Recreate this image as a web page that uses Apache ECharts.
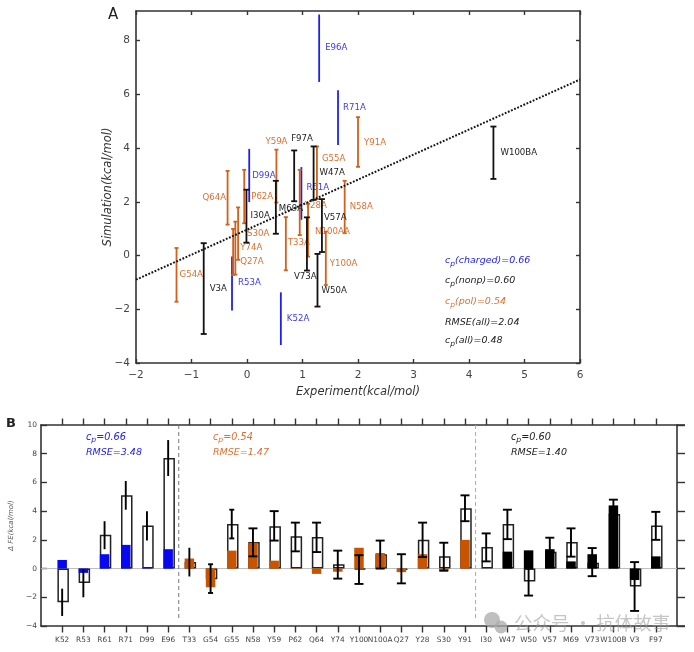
<!DOCTYPE html>
<html><head><meta charset="utf-8">
<style>html,body{margin:0;padding:0;background:#fff}#c{width:694px;height:652px}</style>
<script src="https://cdn.jsdelivr.net/npm/echarts@6/dist/echarts.min.js"></script>
</head><body><div id="c"></div>
<script>
// ---------- Panel A data ----------
const mutants = ['E96A','R71A','R61A','D99A','R53A','K52A',
  'Y91A','Y59A','G55A','N58A','Q64A','P62A','Y28A','S30A','Y74A','Q27A','G54A','T33A','N100AA','Y100A',
  'F97A','W47A','I30A','M69A','V57A','V73A','W50A','V3A','W100BA'];
const mutantGroup = ['c','c','c','c','c','c',
  'p','p','p','p','p','p','p','p','p','p','p','p','p','p',
  'n','n','n','n','n','n','n','n','n'];
const experiment = [1.30,1.64,0.98,0.04,-0.27,0.61,
  2.00,0.53,1.26,1.76,-0.35,-0.05,0.95,-0.16,-0.21,-0.25,-1.27,0.70,1.10,1.42,
  0.85,1.20,-0.01,0.52,1.35,1.08,1.27,-0.78,4.44];
const simLow = [6.46,4.11,1.33,1.99,-2.05,-3.33,
  3.30,1.97,2.10,0.83,1.15,1.20,0.76,-0.16,-0.71,-0.72,-1.72,-0.55,-0.04,-1.10,
  2.02,2.07,0.48,0.81,0.13,-0.56,-1.90,-2.92,2.85];
const simHigh = [8.97,6.15,3.29,3.97,-0.04,-1.37,
  5.15,3.94,4.06,2.78,3.15,3.19,3.19,1.79,1.26,0.99,0.28,1.43,1.92,0.89,
  3.91,4.06,2.45,2.78,2.10,1.42,0.06,0.46,4.80];
const fitLine = [[-2,-0.9],[6,6.55]];
// label pixel offset from the top of each error bar
const labelOffsets = [[6,33],[5,17],[5,21],[3,27],[6,26],[6,26],
  [6,26],[-11,-8],[5,12],[5,26],[-25,27],[7,27],[5,36],[9,26],[5,26],[7,33],[3,27],[2,26],[7,28],[4,32],
  [-3,-12],[6,26],[4,26],[3,28],[2,19],[-13,59],[4,37],[6,46],[7,26]];

// ---------- Panel B data ----------
const residues = ['K52','R53','R61','R71','D99','E96',
  'T33','G54','G55','N58','Y59','P62','Q64','Y74','Y100','N100A','Q27','Y28','S30','Y91',
  'I30','W47','W50','V57','M69','V73','W100B','V3','F97'];
const residueGroup = ['c','c','c','c','c','c','p','p','p','p','p','p','p','p','p','p','p','p','p','p','n','n','n','n','n','n','n','n','n'];
const totalFE = [-2.35,-1.0,2.35,5.1,3.0,7.7,
  0.45,-0.75,3.1,1.85,2.95,2.25,2.2,0.3,-0.05,1.0,-0.1,2.0,0.85,4.2,
  1.5,3.1,-0.9,1.18,1.85,0.4,3.8,-1.25,3.0];
const partFE = [0.6,-0.3,1.0,1.65,0.03,1.35,
  0.7,-1.3,1.25,1.8,0.55,0.03,-0.37,-0.22,1.45,1.08,-0.25,1.0,-0.15,2.0,
  0,1.18,1.27,1.35,0.5,1.0,4.4,-0.8,0.85];
const errLow = [-3.3,-2.0,1.35,4.1,1.95,6.45,
  -0.55,-1.7,2.1,0.85,1.95,1.2,1.15,-0.7,-1.07,0,-1.03,0.8,-0.15,3.3,
  0.5,2.05,-1.88,1.15,0.83,-0.53,3.8,-2.95,2.0];
const errHigh = [-1.4,-0.05,3.3,6.1,4.0,8.95,
  1.45,0.3,4.1,2.8,4.0,3.2,3.2,1.25,0.93,1.95,1.0,3.2,1.8,5.1,
  2.45,4.1,0.05,2.15,2.8,1.43,4.8,0.45,3.95];

// ---------- styles ----------
const BLUE='#2020ee', ORANGE='#d2601a', BLACK='#111', TEXTO='#dd7030', BARO='#c85400';
const FONT='"DejaVu Sans"';
const lineCol={c:BLUE,p:ORANGE,n:BLACK}, textCol={c:'#3a3af0',p:TEXTO,n:'#222'}, barCol={c:'#0808f0',p:BARO,n:'#000'};
const axisLine={show:true,onZero:false,lineStyle:{color:'#333',width:1.6}};
const pad=a=>[null,...a,null];
const catData=['',...residues,''];
const tickSkip=i=>i>0&&i<catData.length-1;

const rowsA=mutants.map((m,i)=>[experiment[i],simLow[i],simHigh[i],i]);
const rowsB=residues.map((r,i)=>[r,errLow[i],errHigh[i],i]);

function renderA(params,api){
  const i=api.value(3),g=mutantGroup[i];
  const lo=api.coord([api.value(0),api.value(1)]),hi=api.coord([api.value(0),api.value(2)]);
  const s={stroke:lineCol[g],lineWidth:1.8};
  const cap=g==='c'?0:(g==='n'?3:2);
  const ch=[{type:'line',shape:{x1:lo[0],y1:lo[1],x2:hi[0],y2:hi[1]},style:s}];
  if(cap){
    ch.push({type:'line',shape:{x1:lo[0]-cap,y1:lo[1],x2:lo[0]+cap,y2:lo[1]},style:s});
    ch.push({type:'line',shape:{x1:hi[0]-cap,y1:hi[1],x2:hi[0]+cap,y2:hi[1]},style:s});
  }
  const o=labelOffsets[i];
  ch.push({type:'text',style:{x:hi[0]+o[0],y:hi[1]+o[1],text:mutants[i],fill:textCol[g],font:'8.6px '+FONT,align:'left',verticalAlign:'middle'}});
  return {type:'group',children:ch};
}
function renderB(params,api){
  const i=api.value(3),g=residueGroup[i];
  const lo=api.coord([api.value(0),api.value(1)]),hi=api.coord([api.value(0),api.value(2)]);
  const s={stroke:'#000',lineWidth:1.9};
  const cap=(g==='c'||i===6)?0:(g==='p'&&i<9?2.5:4.5);
  const ch=[{type:'line',shape:{x1:lo[0],y1:lo[1],x2:hi[0],y2:hi[1]},style:s}];
  if(cap){
    ch.push({type:'line',shape:{x1:lo[0]-cap,y1:lo[1],x2:lo[0]+cap,y2:lo[1]},style:s});
    ch.push({type:'line',shape:{x1:hi[0]-cap,y1:hi[1],x2:hi[0]+cap,y2:hi[1]},style:s});
  }
  return {type:'group',children:ch};
}
function cpText(x,y,color,tail,size){
  return {type:'text',x,y,style:{
    text:'{i|c}{s|p}{i|'+tail+'}',
    rich:{i:{font:'italic '+size+'px '+FONT,fill:color,color:color},
          s:{font:'italic '+(size-2)+'px '+FONT,fill:color,color:color,verticalAlign:'bottom',padding:[6,0,0,0]}},
    verticalAlign:'middle'}};
}
function plainText(x,y,color,text,size,style){
  return {type:'text',x,y,style:{text,fill:color,font:(style||'italic')+' '+size+'px '+FONT,verticalAlign:'middle'}};
}

const option={
  animation:false,backgroundColor:'#fff',
  grid:[{left:136,top:11,width:444,height:352},{left:39,top:425,width:638,height:201}],
  xAxis:[
    {gridIndex:0,type:'value',min:-2,max:6,interval:1,position:'bottom',axisLine,splitLine:{show:false},
     axisTick:{inside:true,length:4,lineStyle:{color:'#333',width:1.4}},
     axisLabel:{color:'#444',fontSize:10.5,fontFamily:FONT,margin:7,formatter:v=>String(v).replace('-','−')},
     name:'Experiment(kcal/mol)',nameLocation:'middle',nameGap:22,
     nameTextStyle:{fontFamily:FONT,fontStyle:'italic',fontSize:11.5,color:'#333'}},
    {gridIndex:0,type:'value',min:-2,max:6,interval:1,position:'top',axisLine,splitLine:{show:false},
     axisTick:{inside:true,length:4,lineStyle:{color:'#333',width:1.4}},axisLabel:{show:false}},
    {gridIndex:1,type:'category',data:catData,boundaryGap:false,position:'bottom',axisLine,
     axisTick:{inside:false,length:6.5,interval:tickSkip,lineStyle:{color:'#333',width:1.4}},
     axisLabel:{interval:0,color:'#444',fontSize:7.4,fontFamily:FONT,margin:11}},
    {gridIndex:1,type:'category',data:catData,boundaryGap:false,position:'top',axisLine,
     axisTick:{inside:false,length:6.5,interval:tickSkip,lineStyle:{color:'#333',width:1.4}},
     axisLabel:{show:false}},
    {gridIndex:1,type:'value',min:0,max:30,show:false,position:'bottom'}
  ],
  yAxis:[
    {gridIndex:0,type:'value',min:-4,max:9.1,interval:2,position:'left',axisLine,splitLine:{show:false},
     axisTick:{inside:true,length:4,lineStyle:{color:'#333',width:1.4},customValues:[-4,-2,0,2,4,6,8]},
     axisLabel:{color:'#444',fontSize:10.5,fontFamily:FONT,margin:6,customValues:[-4,-2,0,2,4,6,8],formatter:v=>String(v).replace('-','−')},
     name:'Simulation(kcal/mol)',nameLocation:'middle',nameGap:22,nameMoveOverlap:false,
     nameTextStyle:{fontFamily:FONT,fontStyle:'italic',fontSize:11.5,color:'#333'}},
    {gridIndex:0,type:'value',min:-4,max:9.1,interval:2,position:'right',axisLine,splitLine:{show:false},
     axisTick:{inside:true,length:4,lineStyle:{color:'#333',width:1.4},customValues:[-4,-2,0,2,4,6,8]},axisLabel:{show:false}},
    {gridIndex:1,type:'value',min:-4,max:10,interval:2,position:'left',axisLine,splitLine:{show:false},
     axisTick:{inside:true,length:6,lineStyle:{color:'#333',width:1.4}},
     axisLabel:{color:'#444',fontSize:7.5,fontFamily:FONT,margin:4,formatter:v=>String(v).replace('-','−')},
     name:'Δ FE(kcal/mol)',nameLocation:'middle',nameGap:22,
     nameTextStyle:{fontFamily:FONT,fontStyle:'italic',fontSize:7,color:'#555'}},
    {gridIndex:1,type:'value',min:-4,max:10,interval:2,position:'right',axisLine,splitLine:{show:false},
     axisTick:{inside:false,length:8,lineStyle:{color:'#333',width:1.4}},axisLabel:{show:false}}
  ],
  series:[
    {type:'line',xAxisIndex:0,yAxisIndex:0,data:fitLine,symbol:'none',z:5,
     lineStyle:{color:'#111',width:2,type:[1.8,1.6]}},
    {type:'custom',xAxisIndex:0,yAxisIndex:0,data:rowsA,renderItem:renderA,encode:{x:0,y:[1,2]},z:4},

    {type:'line',xAxisIndex:4,yAxisIndex:2,data:[[0,0],[30,0]],symbol:'none',z:1,lineStyle:{color:'#bbb',width:1}},
    {type:'line',xAxisIndex:4,yAxisIndex:2,data:[[6.5,10],[6.5,-3.5]],symbol:'none',z:1,lineStyle:{color:'#777',width:1,type:[4,3]}},
    {type:'line',xAxisIndex:4,yAxisIndex:2,data:[[20.5,10],[20.5,-3.5]],symbol:'none',z:1,lineStyle:{color:'#aaa',width:1,type:[4,3]}},
    {type:'bar',xAxisIndex:2,yAxisIndex:2,data:pad(totalFE),barWidth:11.5,barGap:'-100%',z:2,
     itemStyle:{color:'#fff',borderColor:'#222',borderWidth:1.5}},
    {type:'bar',xAxisIndex:2,yAxisIndex:2,data:pad(partFE),barWidth:9.5,barGap:'-100%',z:3,
     itemStyle:{color:p=>barCol[residueGroup[p.dataIndex-1]]||'#000'}},
    {type:'custom',xAxisIndex:2,yAxisIndex:2,data:rowsB,renderItem:renderB,encode:{x:0,y:[1,2]},z:6}
  ],
  graphic:[
    {type:'text',x:108,y:8,style:{text:'A',fill:'#222',font:'15px '+FONT}},
    {type:'text',x:6,y:417,style:{text:'B',fill:'#222',font:'bold 13px '+FONT}},
    {type:'line',shape:{x1:677,y1:425,x2:685,y2:425},style:{stroke:'#333',lineWidth:1.6}},
    {type:'line',shape:{x1:677,y1:626,x2:685,y2:626},style:{stroke:'#333',lineWidth:1.6}},
    cpText(445,261,BLUE,'(charged)=0.66',9.5),
    cpText(445,281,'#222','(nonp)=0.60',9.5),
    cpText(445,302,TEXTO,'(pol)=0.54',9.5),
    plainText(445,323,'#222','RMSE(all)=2.04',9.5),
    cpText(445,341,'#222','(all)=0.48',9.5),
    cpText(86,437,BLUE,'=0.66',9.7),
    plainText(86,453,BLUE,'RMSE=3.48',9.5),
    cpText(213,437,TEXTO,'=0.54',9.7),
    plainText(213,453,TEXTO,'RMSE=1.47',9.5),
    cpText(511,437,'#222','=0.60',9.7),
    plainText(511,453,'#222','RMSE=1.40',9.5),
    {type:'circle',shape:{cx:492,cy:620,r:8},style:{fill:'rgba(170,170,170,0.75)'},z:50},
    {type:'circle',shape:{cx:501,cy:627,r:6.5},style:{fill:'rgba(170,170,170,0.75)'},z:50},
    {type:'text',x:514,y:623,z:50,style:{text:'公众号 · 抗体故事',fill:'rgba(150,150,150,0.55)',font:'18.5px "Noto Sans CJK SC"',verticalAlign:'middle'}}
  ]
};
const chart=echarts.init(document.getElementById('c'),null,{renderer:'canvas'});
chart.setOption(option);
</script></body></html>
